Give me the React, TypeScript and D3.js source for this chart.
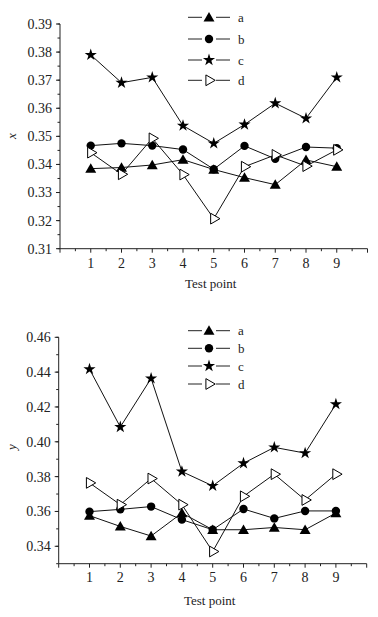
import React from "react";
import * as d3 from "d3";

const testPoints = [1, 2, 3, 4, 5, 6, 7, 8, 9];
const seriesNames = ["a", "b", "c", "d"];

const xA = [0.3385, 0.3389, 0.3398, 0.3417, 0.3382, 0.3353, 0.3328, 0.3416, 0.3392];
const xB = [0.3467, 0.3475, 0.3467, 0.3453, 0.3383, 0.3466, 0.342, 0.3462, 0.3458];
const xC = [0.379, 0.3691, 0.371, 0.3538, 0.3475, 0.3542, 0.3618, 0.3564, 0.371];
const xD = [0.3442, 0.3365, 0.3493, 0.3364, 0.3207, 0.3392, 0.3434, 0.3394, 0.3452];

const yA = [0.3576, 0.3514, 0.3459, 0.3591, 0.3495, 0.3495, 0.3508, 0.3495, 0.3591];
const yB = [0.3599, 0.3612, 0.3628, 0.3553, 0.3495, 0.3614, 0.356, 0.3603, 0.3603];
const yC = [0.4417, 0.4085, 0.4364, 0.3829, 0.3747, 0.3877, 0.3968, 0.3935, 0.4216];
const yD = [0.3764, 0.3639, 0.3789, 0.3639, 0.337, 0.3687, 0.3814, 0.3666, 0.3814];

const xTickLabels = ["0.31", "0.32", "0.33", "0.34", "0.35", "0.36", "0.37", "0.38", "0.39"];
const yTickLabels = ["0.34", "0.36", "0.38", "0.40", "0.42", "0.44", "0.46"];

const FONT = "'Liberation Serif', 'Times New Roman', serif";

type Kind = "a" | "b" | "c" | "d";

function Marker({ kind, x, y }: { kind: Kind; x: number; y: number }) {
  if (kind === "a") {
    const p = d3.symbol().type(d3.symbolTriangle).size(52)()!;
    return <path d={p} transform={`translate(${x},${y + 1})`} fill="#000" />;
  }
  if (kind === "b") {
    return <circle cx={x} cy={y} r={4.2} fill="#000" />;
  }
  if (kind === "c") {
    const p = d3.symbol().type(d3.symbolStar).size(46)()!;
    return <path d={p} transform={`translate(${x},${y})`} fill="#000" />;
  }
  const p = d3.symbol().type(d3.symbolTriangle).size(50)()!;
  return (
    <path
      d={p}
      transform={`translate(${x},${y}) rotate(90)`}
      fill="#fff"
      stroke="#000"
      strokeWidth={1}
    />
  );
}

interface PanelProps {
  data: number[][];
  yDomain: [number, number];
  yRange: [number, number];
  xRange: [number, number];
  yTicks: string[];
  minorStep: number;
  axisLabel: string;
  axisLabelY: number;
  legendRows: number[];
  tickLabelOffset: number;
  titleOffset: number;
}

function Panel(props: PanelProps) {
  const { data, yDomain, yRange, xRange, yTicks, minorStep, axisLabel, axisLabelY, legendRows, tickLabelOffset, titleOffset } = props;
  const x = d3.scaleLinear().domain([0, 10]).range(xRange);
  const y = d3.scaleLinear().domain(yDomain).range(yRange);
  const x0 = x(0);
  const yBase = y(yDomain[0]);
  const yTop = y(yDomain[1]);
  const line = d3
    .line<number>()
    .x((_, i) => x(testPoints[i]))
    .y((d) => y(d));

  const minorTicks: number[] = [];
  const n = Math.round((yDomain[1] - yDomain[0]) / minorStep);
  for (let i = 0; i <= n; i++) minorTicks.push(yDomain[0] + i * minorStep);
  const xMinor: number[] = [];
  for (let i = 0; i <= 20; i++) xMinor.push(i * 0.5);

  return (
    <g fontFamily={FONT}>
      <line x1={x0} x2={x0} y1={yTop} y2={yBase} stroke="#222" strokeWidth={1} />
      <line x1={x0} x2={x(10)} y1={yBase} y2={yBase} stroke="#222" strokeWidth={1} />
      {minorTicks.map((t, i) => (
        <line key={"ym" + i} x1={x0} x2={x0 - 2.5} y1={y(t)} y2={y(t)} stroke="#222" strokeWidth={1} />
      ))}
      {yTicks.map((t) => (
        <g key={"yt" + t}>
          <line x1={x0 - 4} x2={x0} y1={y(+t)} y2={y(+t)} stroke="#222" strokeWidth={1} />
          <text x={x0 - 8} y={y(+t)} dy="0.35em" textAnchor="end" fontSize={14} fill="#222">
            {t}
          </text>
        </g>
      ))}
      {xMinor.map((t, i) => (
        <line key={"xm" + i} x1={x(t)} x2={x(t)} y1={yBase} y2={yBase + (i % 2 === 0 ? 4 : 2.5)} stroke="#222" strokeWidth={1} />
      ))}
      {testPoints.map((t) => (
        <text key={"xt" + t} x={x(t)} y={yBase + tickLabelOffset} dy="0.35em" textAnchor="middle" fontSize={14} fill="#222">
          {t}
        </text>
      ))}
      <text x={(x(0) + x(10)) / 2 - 3} y={yBase + titleOffset} dy="0.35em" textAnchor="middle" fontSize={13} fill="#222">
        Test point
      </text>
      <text
        transform={`translate(12,${axisLabelY}) rotate(-90)`}
        textAnchor="middle"
        dy="0.3em"
        fontSize={13}
        fontStyle="italic"
        fill="#222"
      >
        {axisLabel}
      </text>

      {data.map((vals, si) => (
        <g key={"s" + si}>
          <path d={line(vals)!} fill="none" stroke="#111" strokeWidth={1} />
          {vals.map((v, i) => (
            <Marker key={i} kind={seriesNames[si] as Kind} x={x(testPoints[i])} y={y(v)} />
          ))}
        </g>
      ))}

      {seriesNames.map((name, i) => (
        <g key={"lg" + name}>
          <line x1={188} x2={202} y1={legendRows[i]} y2={legendRows[i]} stroke="#222" strokeWidth={1} />
          <line x1={216} x2={230} y1={legendRows[i]} y2={legendRows[i]} stroke="#222" strokeWidth={1} />
          <Marker kind={name as Kind} x={209} y={legendRows[i]} />
          <text x={238} y={legendRows[i]} dy="0.35em" fontSize={13} fill="#222">
            {name}
          </text>
        </g>
      ))}
    </g>
  );
}

export default function App() {
  return (
    <svg
      width={378}
      height={617}
      style={{ position: "absolute", left: 0, top: 0, background: "#fff" }}
    >
      <rect width={378} height={617} fill="#fff" />
      <Panel
        data={[xA, xB, xC, xD]}
        yDomain={[0.31, 0.39]}
        yRange={[248.7, 24]}
        xRange={[60, 367.5]}
        yTicks={xTickLabels}
        minorStep={0.005}
        axisLabel="x"
        axisLabelY={136}
        legendRows={[17.3, 39, 60, 80.3]}
        tickLabelOffset={14.5}
        titleOffset={34.5}
      />
      <Panel
        data={[yA, yB, yC, yD]}
        yDomain={[0.33, 0.46]}
        yRange={[563.7, 337.3]}
        xRange={[58.7, 366.7]}
        yTicks={yTickLabels}
        minorStep={0.01}
        axisLabel="y"
        axisLabelY={447}
        legendRows={[330.7, 348.3, 366, 384]}
        tickLabelOffset={13.5}
        titleOffset={37}
      />
    </svg>
  );
}
